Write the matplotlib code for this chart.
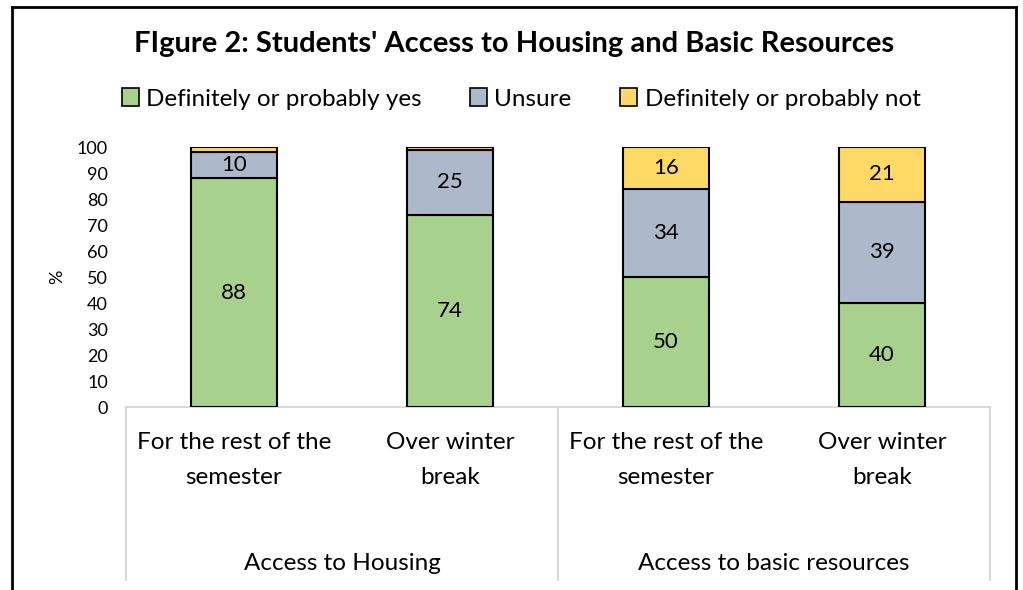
import matplotlib
matplotlib.use("Agg")
import matplotlib.pyplot as plt
from matplotlib.lines import Line2D
from matplotlib.patches import Patch
import matplotlib.transforms as mtransforms

categories = ["For the rest of the\nsemester", "Over winter\nbreak",
              "For the rest of the\nsemester", "Over winter\nbreak"]
groups = ["Access to Housing", "Access to basic resources"]
yes_vals = [88, 74, 50, 40]
unsure_vals = [10, 25, 34, 39]
not_vals = [2, 1, 16, 21]
series_names = ["Definitely or probably yes", "Unsure", "Definitely or probably not"]
colors = ["#A9D18E", "#ADB9CA", "#FFD966"]
yticks = [0, 10, 20, 30, 40, 50, 60, 70, 80, 90, 100]

plt.rcParams['font.family'] = ['Lato', 'DejaVu Sans']

W, H = 1023, 590
fig = plt.figure(figsize=(W / 100, H / 100), dpi=100)
ax = fig.add_axes([126 / W, (H - 407) / H, (990 - 126) / W, 260 / H])

x = list(range(len(categories)))
bottoms = [0] * len(x)
for vals, c in zip([yes_vals, unsure_vals, not_vals], colors):
    ax.bar(x, vals, bottom=bottoms, width=0.4, color=c,
           edgecolor="black", linewidth=1.5, zorder=3)
    for xi, v, b in zip(x, vals, bottoms):
        if v >= 5:
            ax.text(xi, b + v / 2, str(v), ha="center", va="center",
                    fontsize=16, color="black", zorder=4)
    bottoms = [b + v for b, v in zip(bottoms, vals)]

ax.set_xlim(-0.5, 3.5)
ax.set_ylim(0, 100)
ax.set_yticks(yticks)
ax.set_yticklabels([str(t) for t in yticks], fontsize=13)
ax.tick_params(axis="y", length=0, pad=13)
ax.set_xticks([])
for s in ["left", "right", "top"]:
    ax.spines[s].set_visible(False)
ax.spines["bottom"].set_color("#d9d9d9")
ax.spines["bottom"].set_linewidth(1.5)
ax.set_ylabel("%", fontsize=13, labelpad=8)

trans = mtransforms.blended_transform_factory(ax.transData, ax.transAxes)
ybot = (407 - 580) / 260
for xv in [-0.5, 1.5, 3.5]:
    ax.add_line(Line2D([xv, xv], [0, ybot], transform=trans, color="#d9d9d9",
                       linewidth=1.5, clip_on=False))

ycat = (407 - 460) / 260
for xi, lab in zip(x, categories):
    ax.text(xi, ycat, lab, transform=trans, ha="center", va="center",
            fontsize=17.5, linespacing=1.78)
ygrp = (407 - 563) / 260
for gi, g in enumerate(groups):
    ax.text(gi * 2 + 0.5, ygrp, g, transform=trans, ha="center", va="center",
            fontsize=17.5)

fig.text(514 / W, 1 - 44 / H,
         "FIgure 2: Students' Access to Housing and Basic Resources",
         ha="center", va="center", fontsize=21, fontweight="bold")

handles = [Patch(facecolor=c, edgecolor="black", linewidth=1.2) for c in colors]
fig.legend(handles, series_names, loc="center", bbox_to_anchor=(521 / W, 1 - 99 / H),
           ncol=3, frameon=False, fontsize=17.5, handlelength=0.7, handleheight=0.7,
           handletextpad=0.3, columnspacing=2.0)

lw = 2
fig.add_artist(Line2D([12 / W, 12 / W], [0, 1 - 7 / H], transform=fig.transFigure,
                      color="black", linewidth=lw))
fig.add_artist(Line2D([1016 / W, 1016 / W], [0, 1 - 7 / H], transform=fig.transFigure,
                      color="black", linewidth=lw))
fig.add_artist(Line2D([12 / W, 1016 / W], [1 - 7 / H, 1 - 7 / H], transform=fig.transFigure,
                      color="black", linewidth=lw))

fig.savefig("out.png", dpi=100, facecolor="white")
